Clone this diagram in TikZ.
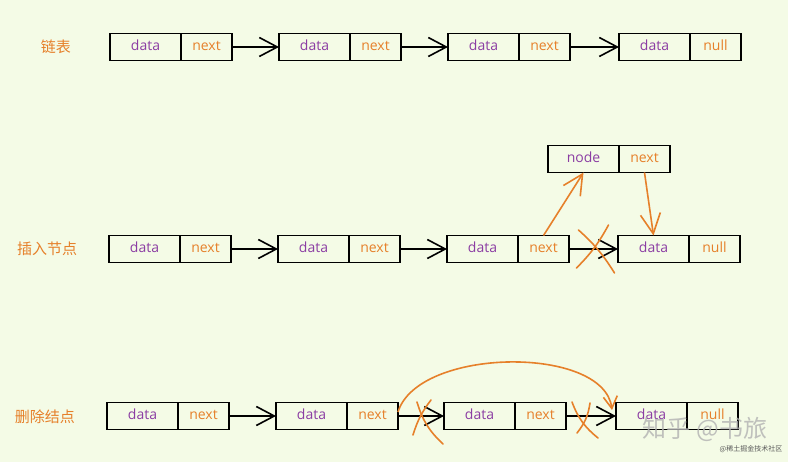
\documentclass[tikz,border=0pt]{standalone}
\usepackage{fontspec}
\setmainfont{Open Sans}
\newfontfamily\cjk{Noto Sans CJK SC}
\usetikzlibrary{arrows.meta}
\usetikzlibrary{calc}
\definecolor{bgcol}{HTML}{F4FBE6}
\definecolor{datacol}{HTML}{8B3DA3}
\definecolor{linkcol}{HTML}{E6802A}
\tikzset{
  cell/.style={draw, line width=1.6pt, minimum height=27pt, inner sep=0pt, outer sep=0pt,
    anchor=west, text height=10pt, text depth=2pt, font=\fontsize{14}{14}\selectfont},
  datacell/.style={cell, minimum width=71pt, text=datacol},
  nextcell/.style={cell, minimum width=51pt, text=linkcol},
  link/.style={line width=1.6pt, -{Straight Barb[length=18pt,width=19pt]}},
  newlink/.style={link, linkcol},
  cross/.style={linkcol, line width=1.6pt, line cap=round},
  rowlabel/.style={text=linkcol, font=\cjk\fontsize{15}{15}\selectfont}
}

\begin{document}
\begin{tikzpicture}[x=1pt,y=-1pt]
  \fill[bgcol] (0,0) rectangle (788,462);
  \useasboundingbox (0,0) rectangle (788,462);
  % three lists: plain, insert, delete
  \foreach \r/\y/\xa/\xb/\xc/\xd in {A/47/110/279/448/619, B/249/109/278/447/618, C/416/107/276/444/616} {
    \foreach \i/\x/\t in {1/\xa/next, 2/\xb/next, 3/\xc/next, 4/\xd/null} {
      \node[datacell] (\r\i d) at (\x,\y) {data};
      \node[nextcell] (\r\i n) at (\r\i d.east) {\t};
    }
    \foreach \i/\j in {1/2, 2/3, 3/4}
      \draw[link] (\r\i n.east) -- (\r\j d.west);
  }
  \node[rowlabel] (lblA) at (56,47) {链表};
  \node[rowlabel] (lblB) at (47,249) {插入节点};
  \node[rowlabel] (lblC) at (45,417) {删除结点};

  % inserted node
  \node[datacell] (Nd) at (548,159) {node};
  \node[nextcell] (Nn) at (Nd.east) {next};
  \draw[newlink, -{Straight Barb[length=20pt,width=20pt]}] (B3n.north) -- (Nd.south);
  \draw[newlink, -{Straight Barb[length=20pt,width=20pt]}] (Nn.south) -- (B4d.north);
  \coordinate (xB) at ($(B3n.east)!0.5!(B4d.west)$);
  \draw[cross] ($(xB)+(-15,-19)$) to[bend left=8] ($(xB)+(21,24)$);
  \draw[cross] ($(xB)+(15,-24)$) to[bend left=8] ($(xB)+(-17,19)$);

  % deleted node
  \draw[newlink, -{Straight Barb[length=12pt,width=14pt]}] ([yshift=4pt]C2n.east)
    .. controls +(20,-65) and +(-8,-65) .. ([xshift=-4pt,yshift=6pt]C4d.west);
  \coordinate (xC1) at ($(C2n.east)!0.5!(C3d.west)$);
  \coordinate (xC2) at ($(C3n.east)!0.5!(C4d.west)$);
  \draw[cross] ($(xC1)+(-4,-14)$) to[bend right=15] ($(xC1)+(22,28)$);
  \draw[cross] ($(xC1)+(10,-16)$) to[bend right=10] ($(xC1)+(-8,19)$);
  \draw[cross] ($(xC2)+(-19,-14)$) to[bend right=15] ($(xC2)+(7,22)$);
  \draw[cross] ($(xC2)+(-1,-13)$) to[bend left=15] ($(xC2)+(-14,17)$);

  % watermark
  \node[text=white!70!black, opacity=0.8, font=\cjk\fontsize{24}{24}\selectfont] (wm) at (705,429) {知乎 @书旅};
  \node[text=black!65, font=\cjk\fontsize{7}{7}\selectfont] (wm2) at (751,449) {@稀土掘金技术社区};
\end{tikzpicture}
\end{document}
